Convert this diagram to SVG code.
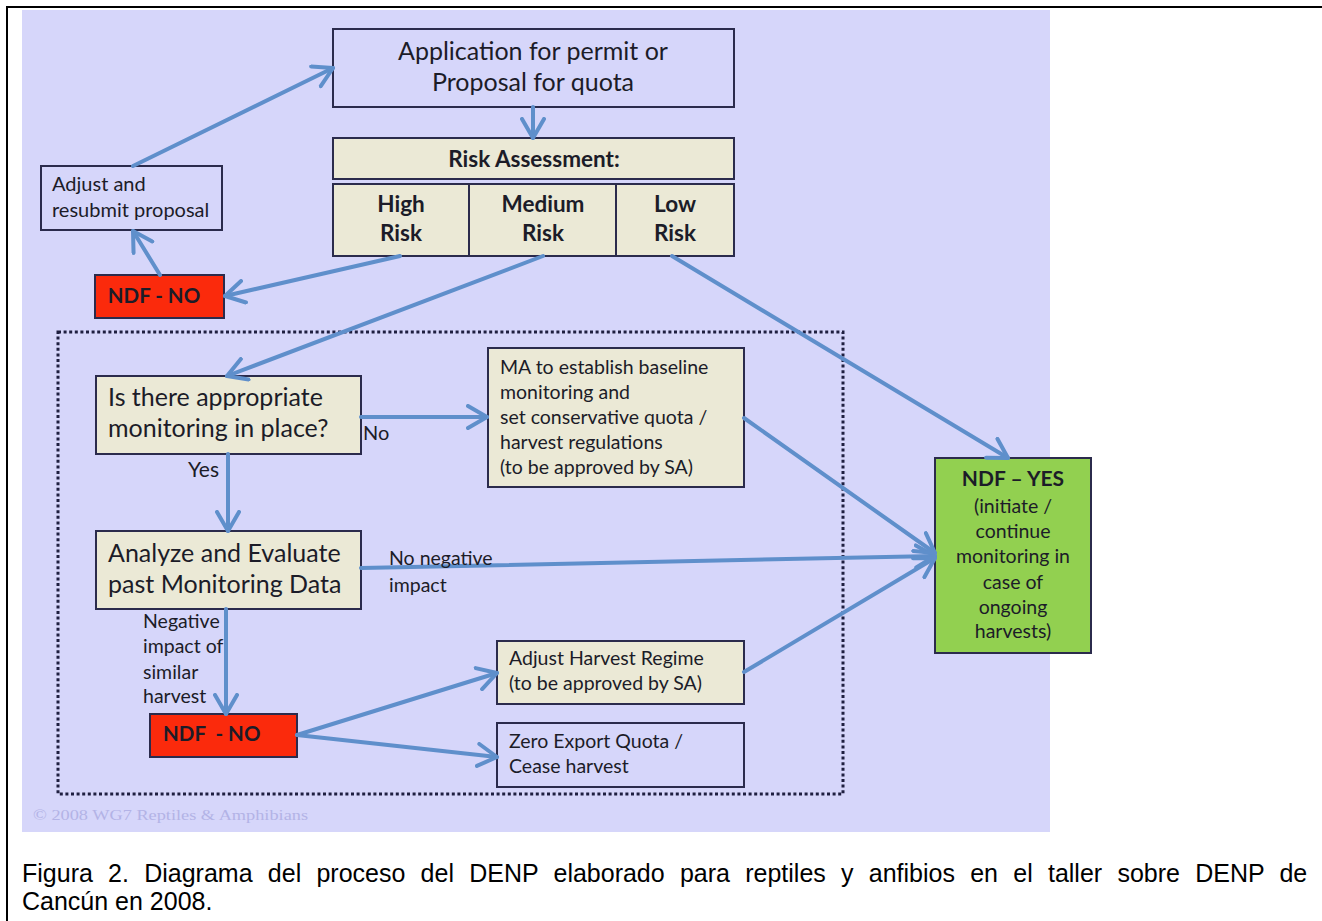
<svg xmlns="http://www.w3.org/2000/svg" width="1322" height="921" viewBox="0 0 1322 921">
<style>
.box{stroke:#2b2b4c;stroke-width:2}
.lav{fill:#d6d6fa}
.beige{fill:#ebe9d6}
.red{fill:#fb2a0c}
.green{fill:#92d050}
.t{font-family:Lato,"Open Sans","Liberation Sans",sans-serif;fill:#1c1c28}
.b{font-weight:bold}
.big{font-size:25px}
.bold{font-size:22.5px}
.med{font-size:20px}
.sm{font-size:19.5px}
.c{text-anchor:middle}
.conn line{stroke:#5f8fcb;stroke-width:4;stroke-linecap:round;fill:none}
.cap{font-family:"Liberation Sans",Arial,sans-serif;font-size:25px;fill:#000}
</style>
<defs>
<marker id="ah" viewBox="0 0 24 26" refX="21" refY="13" markerWidth="24" markerHeight="26" markerUnits="userSpaceOnUse" orient="auto">
<path d="M2,2 L21,13 L2,24" fill="none" stroke="#5f8fcb" stroke-width="4" stroke-linecap="round" stroke-linejoin="round"/>
</marker>
</defs>
<rect x="0" y="0" width="1322" height="921" fill="#ffffff"/>
<line x1="6" y1="7" x2="1322" y2="7" stroke="#000" stroke-width="2"/>
<line x1="7" y1="6" x2="7" y2="921" stroke="#000" stroke-width="2"/>
<rect x="22" y="10" width="1028" height="822" fill="#d6d6fa"/>
<text x="33" y="820" font-family="'Liberation Serif',serif" font-size="15" fill="#b3b3e6" textLength="275" lengthAdjust="spacingAndGlyphs">© 2008 WG7 Reptiles &amp; Amphibians</text>

<rect id="scope" x="58" y="332" width="785" height="462" fill="none" stroke="#1f1f40" stroke-width="3" stroke-dasharray="3 2.6"/>

<g id="application">
<rect class="box lav" x="333" y="29" width="401" height="78"/>
<text class="t big c" x="533" y="60">Application for permit or</text>
<text class="t big c" x="533" y="91">Proposal for quota</text>
</g>
<g id="risk-assessment">
<rect class="box beige" x="333" y="138" width="401" height="41"/>
<text class="t b bold c" x="534" y="167">Risk Assessment:</text>
</g>
<g id="high-risk">
<rect class="box beige" x="333" y="184" width="136" height="72"/>
<text class="t b bold c" x="401" y="212">High</text>
<text class="t b bold c" x="401" y="241">Risk</text>
</g>
<g id="medium-risk">
<rect class="box beige" x="469" y="184" width="147" height="72"/>
<text class="t b bold c" x="543" y="212">Medium</text>
<text class="t b bold c" x="543" y="241">Risk</text>
</g>
<g id="low-risk">
<rect class="box beige" x="616" y="184" width="118" height="72"/>
<text class="t b bold c" x="675" y="212">Low</text>
<text class="t b bold c" x="675" y="241">Risk</text>
</g>
<g id="adjust-resubmit">
<rect class="box lav" x="41" y="166" width="181" height="64"/>
<text class="t med" x="52" y="191">Adjust and</text>
<text class="t med" x="52" y="217">resubmit proposal</text>
</g>
<g id="ndf-no-top">
<rect class="box red" x="95" y="275" width="129" height="43"/>
<text class="t b c" x="154" y="303" font-size="20.5" fill="#2a1010">NDF - NO</text>
</g>
<g id="monitoring-question">
<rect class="box beige" x="96" y="376" width="265" height="78"/>
<text class="t big" x="108" y="406">Is there appropriate</text>
<text class="t big" x="108" y="437">monitoring in place?</text>
</g>
<g id="analyze">
<rect class="box beige" x="96" y="531" width="265" height="78"/>
<text class="t big" x="108" y="562">Analyze and Evaluate</text>
<text class="t big" x="108" y="593">past Monitoring Data</text>
</g>
<g id="ma-baseline">
<rect class="box beige" x="488" y="348" width="256" height="139"/>
<text class="t sm" x="500" y="374">MA to establish baseline</text>
<text class="t sm" x="500" y="399">monitoring and</text>
<text class="t sm" x="500" y="424">set conservative quota /</text>
<text class="t sm" x="500" y="449">harvest regulations</text>
<text class="t sm" x="500" y="474">(to be approved by SA)</text>
</g>
<g id="ndf-yes">
<rect class="box green" x="935" y="458" width="156" height="195"/>
<text class="t b c" x="1013" y="486" font-size="21">NDF – YES</text>
<text class="t sm c" x="1013" y="513">(initiate /</text>
<text class="t sm c" x="1013" y="538">continue</text>
<text class="t sm c" x="1013" y="563">monitoring in</text>
<text class="t sm c" x="1013" y="589">case of</text>
<text class="t sm c" x="1013" y="614">ongoing</text>
<text class="t sm c" x="1013" y="638">harvests)</text>
</g>
<g id="ndf-no-bottom">
<rect class="box red" x="150" y="714" width="147" height="43"/>
<text class="t b" x="163" y="741" font-size="20.5" fill="#2a1010" xml:space="preserve" style="white-space:pre">NDF  - NO</text>
</g>
<g id="adjust-harvest">
<rect class="box beige" x="497" y="641" width="247" height="63"/>
<text class="t sm" x="509" y="665">Adjust Harvest Regime</text>
<text class="t sm" x="509" y="690">(to be approved by SA)</text>
</g>
<g id="zero-export">
<rect class="box lav" x="497" y="723" width="247" height="64"/>
<text class="t sm" x="509" y="748">Zero Export Quota /</text>
<text class="t sm" x="509" y="773">Cease harvest</text>
</g>

<g id="connectors" class="conn">
<line x1="133" y1="166" x2="333" y2="68" marker-end="url(#ah)"/>
<line x1="533" y1="107" x2="533" y2="138" marker-end="url(#ah)"/>
<line x1="400" y1="256" x2="225" y2="296" marker-end="url(#ah)"/>
<line x1="160" y1="275" x2="133" y2="231" marker-end="url(#ah)"/>
<line x1="543" y1="256" x2="227" y2="376" marker-end="url(#ah)"/>
<line x1="672" y1="256" x2="1008" y2="458" marker-end="url(#ah)"/>
<line x1="361" y1="417" x2="487" y2="417" marker-end="url(#ah)"/>
<line x1="228" y1="454" x2="228" y2="531" marker-end="url(#ah)"/>
<line x1="361" y1="568" x2="935" y2="556" marker-end="url(#ah)"/>
<line x1="744" y1="418" x2="935" y2="553" marker-end="url(#ah)"/>
<line x1="226" y1="609" x2="226" y2="714" marker-end="url(#ah)"/>
<line x1="297" y1="735" x2="497" y2="673" marker-end="url(#ah)"/>
<line x1="297" y1="735" x2="497" y2="757" marker-end="url(#ah)"/>
<line x1="744" y1="672" x2="935" y2="558" marker-end="url(#ah)"/>
</g>

<g id="labels">
<text class="t med" x="363" y="440">No</text>
<text class="t" x="188" y="477" font-size="21">Yes</text>
<text class="t sm" x="389" y="565">No negative</text>
<text class="t sm" x="389" y="592">impact</text>
<text class="t sm" x="143" y="628">Negative</text>
<text class="t sm" x="143" y="653">impact of</text>
<text class="t sm" x="143" y="679">similar</text>
<text class="t sm" x="143" y="703">harvest</text>
</g>

<text class="cap" x="22" y="882" word-spacing="8.3">Figura 2. Diagrama del proceso del DENP elaborado para reptiles y anfibios en el taller sobre DENP de</text>
<text class="cap" x="22" y="910">Cancún en 2008.</text>
</svg>
